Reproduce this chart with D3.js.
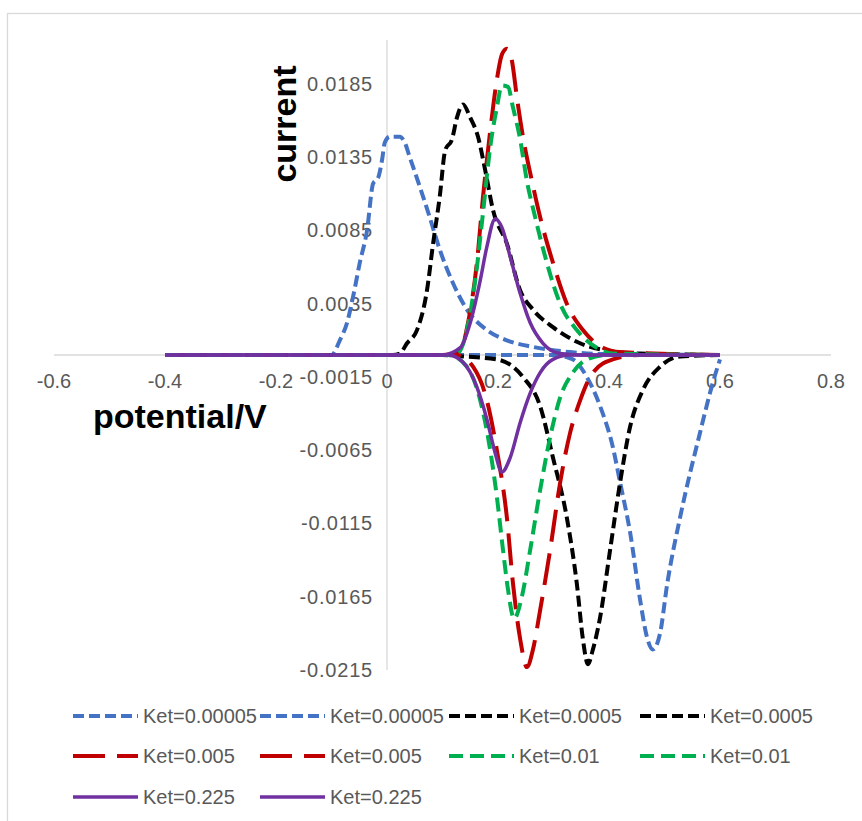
<!DOCTYPE html>
<html>
<head>
<meta charset="utf-8">
<script src="https://cdn.jsdelivr.net/npm/d3@7"></script>
<style>
  body { margin: 0; background: #fff; }
  text { font-family: 'Liberation Sans', Arial, sans-serif; }
</style>
</head>
<body>
<div id="chart"></div>
<script>
// [potential, current] pairs
var ket00005Ox = [[-0.4,0],[-0.1,0],[-0.085,0.001],[-0.072,0.0022],[-0.061,0.004],[-0.049,0.0063],[-0.036,0.0085],[-0.025,0.0117],[-0.016,0.0121],[-0.009,0.0133],[-0.004,0.0145],[0.005,0.0149],[0.023,0.0149],[0.032,0.0145],[0.041,0.0135],[0.059,0.0115],[0.077,0.0094],[0.095,0.0072],[0.119,0.0049],[0.144,0.0031],[0.18,0.0017],[0.216,0.001],[0.263,0.00055],[0.33,0.0002],[0.384,0.00007],[0.6,0]];
var ket00005Red = [[-0.4,0],[0.3,0],[0.335,-0.0003],[0.36,-0.0015],[0.384,-0.0035],[0.407,-0.0063],[0.42,-0.0087],[0.438,-0.0121],[0.456,-0.0167],[0.468,-0.0192],[0.479,-0.0201],[0.492,-0.019],[0.505,-0.0156],[0.528,-0.0111],[0.564,-0.0053],[0.587,-0.0019],[0.6,-0.0003]];
var ket0005Ox = [[-0.4,0],[0.01,0],[0.023,0.0001],[0.036,0.0008],[0.054,0.0017],[0.072,0.0044],[0.083,0.0076],[0.095,0.0108],[0.105,0.014],[0.117,0.0147],[0.126,0.0162],[0.137,0.0171],[0.15,0.0162],[0.164,0.0149],[0.177,0.0126],[0.191,0.0099],[0.216,0.0076],[0.24,0.0044],[0.263,0.0031],[0.299,0.0019],[0.348,0.0008],[0.396,0.0003],[0.456,0.0001],[0.6,0]];
var ket0005Red = [[-0.4,0],[0.1,0],[0.137,-0.0001],[0.198,-0.0003],[0.245,-0.0015],[0.276,-0.0035],[0.299,-0.007],[0.324,-0.0111],[0.342,-0.0156],[0.353,-0.0194],[0.362,-0.0211],[0.371,-0.0201],[0.384,-0.0179],[0.402,-0.0133],[0.42,-0.0087],[0.438,-0.0049],[0.461,-0.0024],[0.492,-0.0008],[0.528,-0.0001],[0.6,0]];
var ket005Ox = [[-0.4,0],[0.1,0],[0.132,0.0003],[0.146,0.0022],[0.162,0.0063],[0.173,0.0108],[0.186,0.0153],[0.198,0.0188],[0.207,0.0205],[0.216,0.0209],[0.225,0.0201],[0.234,0.0176],[0.245,0.0149],[0.261,0.0119],[0.276,0.0094],[0.299,0.0063],[0.324,0.0035],[0.353,0.0017],[0.389,0.0005],[0.42,0.0002],[0.6,0]];
var ket005Red = [[-0.4,0],[0.126,0],[0.155,-0.0008],[0.18,-0.0031],[0.198,-0.0065],[0.216,-0.0111],[0.227,-0.0156],[0.24,-0.0194],[0.252,-0.0213],[0.263,-0.0201],[0.276,-0.0174],[0.294,-0.0133],[0.312,-0.0087],[0.33,-0.0053],[0.348,-0.0031],[0.371,-0.0012],[0.407,-0.0003],[0.456,0],[0.6,0]];
var ket001Ox = [[-0.4,0],[0.1,0],[0.126,0.0001],[0.144,0.0017],[0.159,0.0051],[0.173,0.0097],[0.186,0.0142],[0.198,0.0169],[0.207,0.0184],[0.218,0.0183],[0.227,0.0169],[0.24,0.0147],[0.252,0.0119],[0.267,0.0094],[0.288,0.0063],[0.312,0.0035],[0.342,0.0017],[0.378,0.0005],[0.407,0.0001],[0.6,0]];
var ket001Red = [[-0.4,0],[0.11,0],[0.144,-0.0008],[0.168,-0.0031],[0.186,-0.0065],[0.198,-0.0097],[0.209,-0.0133],[0.218,-0.016],[0.229,-0.018],[0.243,-0.0165],[0.258,-0.0133],[0.276,-0.0092],[0.294,-0.0056],[0.312,-0.0029],[0.335,-0.0012],[0.36,-0.0003],[0.396,0],[0.6,0]];
var ket0225Ox = [[-0.4,0],[0.1,0],[0.132,0.0005],[0.15,0.0022],[0.168,0.0051],[0.18,0.0074],[0.195,0.0093],[0.207,0.0087],[0.222,0.0067],[0.24,0.0042],[0.258,0.0022],[0.281,0.0008],[0.312,0.0001],[0.348,0],[0.6,0]];
var ket0225Red = [[-0.4,0],[0.11,0],[0.137,-0.0005],[0.162,-0.0022],[0.18,-0.0044],[0.195,-0.0067],[0.207,-0.008],[0.222,-0.007],[0.24,-0.0046],[0.258,-0.0026],[0.276,-0.0012],[0.299,-0.0003],[0.33,0],[0.6,0]];

var seriesData = [ket00005Ox, ket00005Red, ket0005Ox, ket0005Red, ket005Ox, ket005Red, ket001Ox, ket001Red, ket0225Ox, ket0225Red];
var seriesNames = ['Ket=0.00005', 'Ket=0.00005', 'Ket=0.0005', 'Ket=0.0005', 'Ket=0.005', 'Ket=0.005', 'Ket=0.01', 'Ket=0.01', 'Ket=0.225', 'Ket=0.225'];

var xTicks = [-0.6, -0.4, -0.2, 0, 0.2, 0.4, 0.6, 0.8];
var yTicks = [-0.0215, -0.0165, -0.0115, -0.0065, -0.0015, 0.0035, 0.0085, 0.0135, 0.0185];

var colors = ['#4472C4', '#4472C4', '#000000', '#000000', '#C00000', '#C00000', '#00B050', '#00B050', '#7030A0', '#7030A0'];
var dashes = ['11,5', '11,5', '11,5', '11,5', '32,12', '32,12', '14,7', '14,7', null, null];

var W = 862, H = 821;

var svg = d3.select('#chart')
  .append('svg')
    .attr('width', W)
    .attr('height', H);

svg.append('rect')
  .attr('x', 7.5).attr('y', 13.5)
  .attr('width', W).attr('height', H)
  .attr('fill', '#fff')
  .attr('stroke', '#d9d9d9')
  .attr('stroke-width', 1.3);

var x = d3.scaleLinear().domain([-0.6, 0.8]).range([54, 831]);
var y = d3.scaleLinear().domain([-0.0215, 0.0215]).range([670, 40]);

// plain hyphen for negatives, like the original
var fmt = d3.formatLocale({ decimal: '.', thousands: ',', grouping: [3], currency: ['', ''], minus: '-' });
var fmtX = fmt.format('');
var fmtY = fmt.format('.4f');

// axes cross at 0,0
svg.append('line')
  .attr('x1', x(-0.6)).attr('x2', x(0.8))
  .attr('y1', y(0)).attr('y2', y(0))
  .attr('stroke', '#d9d9d9').attr('stroke-width', 1.3);
svg.append('line')
  .attr('x1', x(0)).attr('x2', x(0))
  .attr('y1', y(0.0215)).attr('y2', y(-0.0215))
  .attr('stroke', '#d9d9d9').attr('stroke-width', 1.3);

svg.selectAll('.xlab')
  .data(xTicks)
  .enter().append('text')
    .attr('class', 'xlab')
    .attr('x', function(d) { return x(d); })
    .attr('y', y(0) + 33)
    .attr('text-anchor', 'middle')
    .attr('font-size', 20)
    .attr('fill', '#595959')
    .text(function(d) { return fmtX(d); });

svg.selectAll('.ylab')
  .data(yTicks)
  .enter().append('text')
    .attr('class', 'ylab')
    .attr('x', x(0) - 14)
    .attr('y', function(d) { return y(d); })
    .attr('dy', '0.35em')
    .attr('text-anchor', 'end')
    .attr('font-size', 20)
    .attr('letter-spacing', 0.8)
    .attr('fill', '#595959')
    .text(function(d) { return fmtY(d); });

var line = d3.line()
  .x(function(d) { return x(d[0]); })
  .y(function(d) { return y(d[1]); })
  .curve(d3.curveMonotoneX);

svg.selectAll('.series')
  .data(seriesData)
  .enter().append('path')
    .attr('class', 'series')
    .attr('d', line)
    .attr('fill', 'none')
    .attr('stroke', function(d, i) { return colors[i]; })
    .attr('stroke-width', function(d, i) { return dashes[i] ? 4 : 3.5; })
    .attr('stroke-dasharray', function(d, i) { return dashes[i]; })
    .attr('stroke-linejoin', 'round');

// axis titles
svg.append('text')
  .attr('transform', 'translate(296,124) rotate(-90)')
  .attr('text-anchor', 'middle')
  .attr('font-size', 34)
  .attr('font-weight', 'bold')
  .text('current');

svg.append('text')
  .attr('x', 93).attr('y', 428)
  .attr('font-size', 34)
  .attr('font-weight', 'bold')
  .text('potential/V');

// legend, 4 per row
var colX = [73, 260, 449, 640];
var rowY = [716, 756, 797];

var items = svg.selectAll('.legend')
  .data(seriesNames)
  .enter().append('g')
    .attr('class', 'legend')
    .attr('transform', function(d, i) {
      return 'translate(' + colX[i % 4] + ',' + rowY[Math.floor(i / 4)] + ')';
    });

items.append('line')
  .attr('x1', 0).attr('x2', 65)
  .attr('stroke', function(d, i) { return colors[i]; })
  .attr('stroke-width', function(d, i) { return dashes[i] ? 4 : 3.5; })
  .attr('stroke-dasharray', function(d, i) { return dashes[i]; });

items.append('text')
  .attr('x', 70)
  .attr('dy', '0.35em')
  .attr('font-size', 20)
  .attr('fill', '#595959')
  .text(function(d) { return d; });
</script>
</body>
</html>
